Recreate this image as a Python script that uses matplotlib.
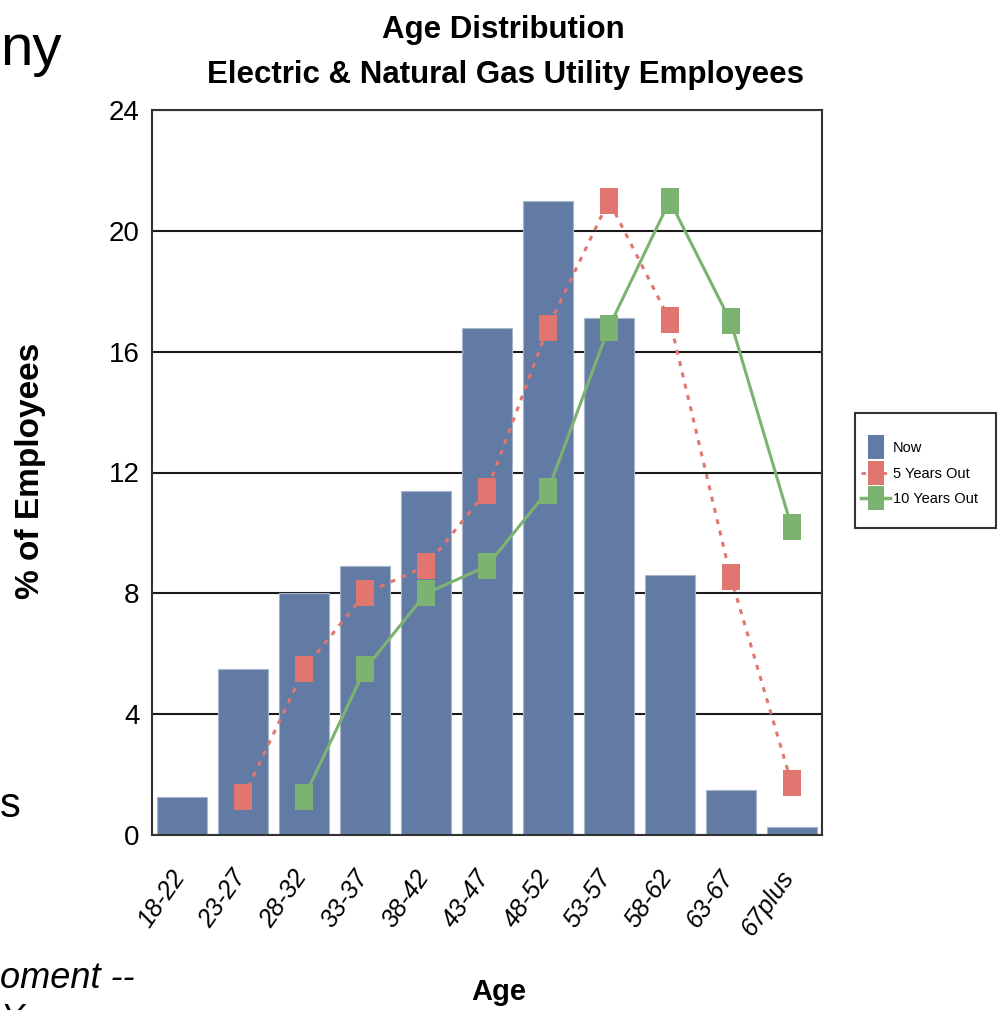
import numpy as np
import matplotlib.pyplot as plt
import matplotlib.transforms as mtransforms
from matplotlib.path import Path
from matplotlib.patches import Rectangle
from matplotlib.lines import Line2D

# data
ages = ['18-22', '23-27', '28-32', '33-37', '38-42', '43-47',
        '48-52', '53-57', '58-62', '63-67', '67plus']
now = [1.25, 5.5, 8.0, 8.9, 11.4, 16.8, 21.0, 17.1, 8.6, 1.5, 0.25]
five_years = [np.nan, 1.25, 5.5, 8.0, 8.9, 11.4, 16.8, 21.0, 17.05, 8.55, 1.72]
ten_years = [np.nan, np.nan, 1.25, 5.5, 8.0, 8.9, 11.4, 16.8, 21.0, 17.0, 10.2]
y_ticks = [0, 4, 8, 12, 16, 20, 24]

BLUE = '#627ba4'
RED = '#e0766f'
GREEN = '#7cb370'
FONT = 'Liberation Sans'
W, H = 998, 1010

# tall rectangle marker, like the squashed squares in the original
rect = Path([(-0.654, -1), (0.654, -1), (0.654, 1), (-0.654, 1), (-0.654, -1)],
            [Path.MOVETO, Path.LINETO, Path.LINETO, Path.LINETO, Path.CLOSEPOLY])

fig = plt.figure(figsize=(W / 100, H / 100), dpi=100)
ax = fig.add_axes([152 / W, 1 - 835 / H, 670 / W, 725 / H])

x = np.arange(len(ages))
ax.bar(x, now, width=0.82, color=BLUE, edgecolor='#a7b5cc', linewidth=0.8, zorder=2)
ax.plot(x, five_years, color=RED, linestyle=(0, (1.6, 2.2)), linewidth=2.2,
        marker=rect, markersize=19, markeredgewidth=0, zorder=3)
ax.plot(x, ten_years, color=GREEN, linestyle='-', linewidth=2.2,
        marker=rect, markersize=19, markeredgewidth=0, zorder=4)

ax.set_xlim(-0.5, len(ages) - 0.5)
ax.set_ylim(0, 24)
ax.set_yticks(y_ticks)
ax.yaxis.grid(True, color='#1a1a1a', linewidth=1.5)
ax.set_axisbelow(True)
for s in ax.spines.values():
    s.set_color('#333333')
    s.set_linewidth(1.5)
ax.tick_params(length=0)
ax.set_yticklabels([str(v) for v in y_ticks], family=FONT, fontsize=20)
ax.tick_params(axis='y', pad=9)
ax.set_xticks(x)
ax.set_xticklabels(ages, rotation=55, ha='right', rotation_mode='anchor',
                   family=FONT, fontsize=18, style='italic')
ax.tick_params(axis='x', pad=22)
# nudge the slanted labels a little to the left
shift = mtransforms.ScaledTranslation(-12 / 100, 0, fig.dpi_scale_trans)
for lbl in ax.get_xticklabels():
    lbl.set_transform(lbl.get_transform() + shift)

fig.text(503 / W, 1 - 30 / H, 'Age Distribution', ha='center', va='center',
         family=FONT, fontsize=22.5, fontweight='bold')
fig.text(506 / W, 1 - 75 / H, 'Electric & Natural Gas Utility Employees',
         ha='center', va='center', family=FONT, fontsize=22.5, fontweight='bold')
fig.text(499 / W, 1 - 992 / H, 'Age', ha='center', va='center',
         family=FONT, fontsize=21, fontweight='bold')
fig.text(31 / W, 1 - 471 / H, '% of Employees', ha='center', va='center',
         rotation=90, family=FONT, fontsize=24, fontweight='bold')

# leftover slide text around the chart
fig.text(0, 1 - 65 / H, 'ny', ha='left', va='baseline', family=FONT, fontsize=42)
fig.text(0, 1 - 817 / H, 's', ha='left', va='baseline', family=FONT, fontsize=30)
fig.text(0, 1 - 988 / H, 'oment --', ha='left', va='baseline',
         family=FONT, fontsize=26, style='italic')
fig.text(0, 1 - 1002 / H, 'Y', ha='left', va='top',
         family=FONT, fontsize=25, style='italic')

# legend box
fig.add_artist(Rectangle((855 / W, 1 - 528 / H), 141 / W, 115 / H,
                         transform=fig.transFigure, fill=False,
                         edgecolor='#333333', linewidth=1.5))
handles = [
    Line2D([], [], linestyle='none', marker=rect, markersize=17,
           color=BLUE, markeredgewidth=0),
    Line2D([], [], color=RED, linestyle=(0, (1.6, 2.2)), linewidth=2,
           marker=rect, markersize=17, markeredgewidth=0),
    Line2D([], [], color=GREEN, linewidth=2.5, marker=rect, markersize=17,
           markeredgewidth=0),
]
fig.legend(handles, ['Now', '5 Years Out', '10 Years Out'],
           loc='upper left', bbox_to_anchor=(861 / W, 1 - 441 / H),
           bbox_transform=fig.transFigure, prop={'family': FONT, 'size': 10.5},
           frameon=False, borderpad=0, handlelength=2.0, handletextpad=0.2,
           labelspacing=0.8, borderaxespad=0)

fig.savefig('out.png', dpi=100)
